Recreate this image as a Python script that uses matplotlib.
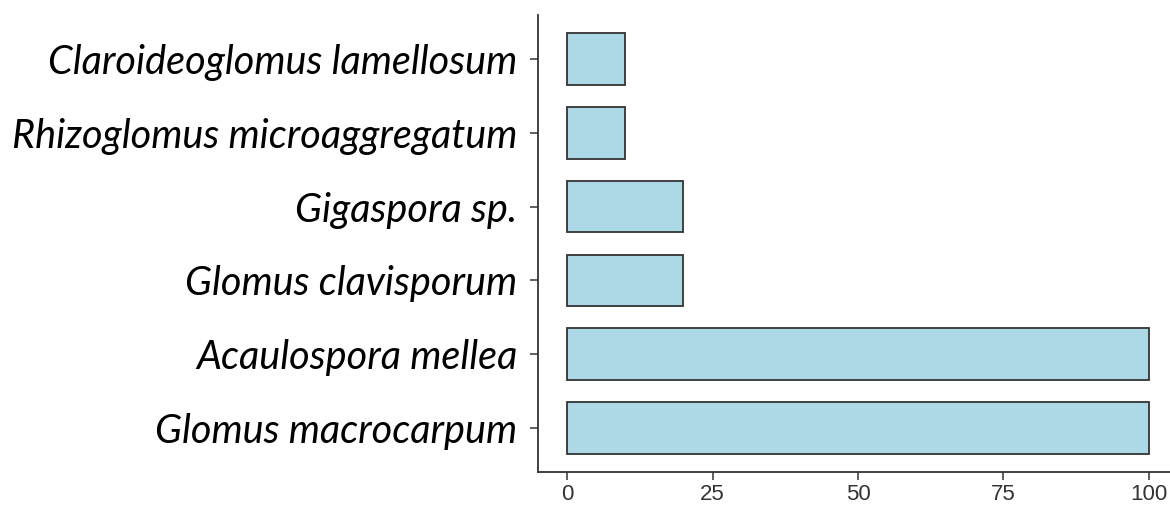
import matplotlib
matplotlib.use("Agg")
import matplotlib.pyplot as plt

species = ["Glomus macrocarpum", "Acaulospora mellea", "Glomus clavisporum",
           "Gigaspora sp.", "Rhizoglomus microaggregatum", "Claroideoglomus lamellosum"]
values = [100, 100, 20, 20, 10, 10]
xticks = [0, 25, 50, 75, 100]

fig = plt.figure(figsize=(11.7, 5.05), dpi=100)
ax = fig.add_axes([538 / 1170, 1 - 472 / 505, 640 / 1170, (472 - 15) / 505])

pos = list(range(1, len(species) + 1))
ax.barh(pos, values, height=0.7, color="#add8e6", edgecolor="#333333", linewidth=1.3)

ax.set_xlim(-5, 105)
ax.set_ylim(0.4, 6.6)
ax.set_yticks(pos)
ax.set_yticklabels(species, fontfamily="Lato", fontstyle="italic", fontsize=28.5, color="black")
ax.set_xticks(xticks)
ax.set_xticklabels([str(t) for t in xticks], family=["Liberation Sans Narrow", "Liberation Sans"],
                   fontsize=16, color="#333333")

for s in ["top", "right"]:
    ax.spines[s].set_visible(False)
for s in ["left", "bottom"]:
    ax.spines[s].set_color("#333333")
    ax.spines[s].set_linewidth(1.3)
ax.tick_params(axis="y", length=6, width=1.1, color="#333333", pad=9)
ax.tick_params(axis="x", length=6, width=1.1, color="#333333", pad=3)

fig.savefig("out.png", dpi=100)
